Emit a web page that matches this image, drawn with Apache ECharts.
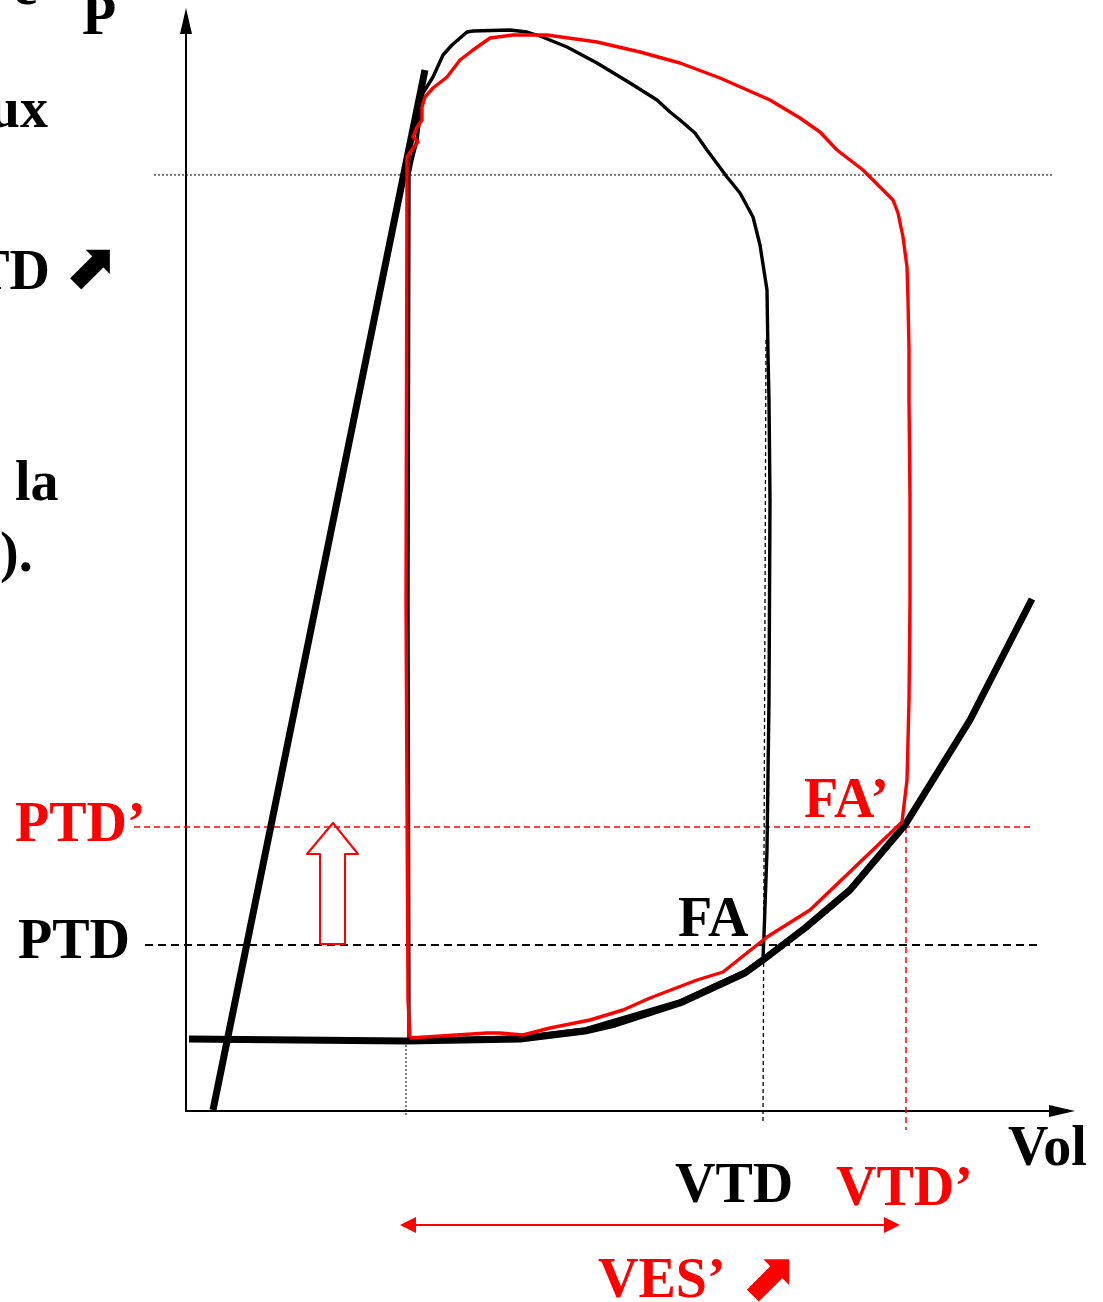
<!DOCTYPE html>
<html><head><meta charset="utf-8">
<script src="https://cdn.jsdelivr.net/npm/echarts@6/dist/echarts.min.js"></script>
<style>html,body{margin:0;padding:0;background:#fff}#c{width:1103px;height:1302px}</style>
</head><body><div id="c"></div>
<script>
// Units: volume (arbitrary) on x, pressure (arbitrary) on y
const espvr = [[6.75,0.2],[59.75,208.2]];
const edpvr = [[0.75,14.4],[55,14],[83.5,14.4],[99.75,16],[107.25,17.4],[123.5,21.6],[139.75,27.6],[144.25,30.2],[154.75,36.6],[166,44.2],[179.75,57.2],[196,78.2],[211.5,102.4]];
const loopBase = [[55.75,14.2],[83.5,14.8],[99.75,16.4],[123.5,22],[139.75,28],[144.25,30.6],[144.5,35.2],[145.25,52.2],[145.75,82.2],[146,122.2],[145.75,142.2],[145.5,151.2],[145.25,164.2],[143.5,173.2],[141.75,178.8],[138.5,183.6],[135.25,186.8],[130.25,192.2],[127.25,195.6],[123.5,198.2],[121,199.8],[117.75,202.2],[111,205.6],[102.75,209.6],[95.25,212.8],[88.5,215],[85.25,215.8],[81,216.2],[71.75,216],[70.25,215.8],[66.5,213.2],[64.25,211.2],[61.75,206.8],[59.25,203.6],[57.75,194.2],[56.5,190.2],[55.75,187.2],[55.5,102.2],[55.75,14.2]];
const loopPreload = [[56,14.6],[75.25,15.6],[78.5,15.6],[84.25,15.2],[91,16.6],[101,18.2],[109.25,20.2],[116,22.6],[127.75,26.2],[134.25,27.8],[145.25,34.8],[156,40.2],[179,57.8],[180.25,66.2],[180.75,82.2],[181,102.2],[181,122.2],[180.75,142.2],[180.75,152.2],[180.5,162.2],[180.25,168.8],[179.25,174.8],[178,179.6],[176.75,182.2],[173.5,184.8],[169.25,188.2],[162.75,192.2],[158.5,195.8],[153.5,198.6],[146,202.2],[133.5,206.6],[123.5,209.6],[113.5,211.8],[102.75,213.8],[90.25,215.2],[81.75,215.2],[76,214.6],[71.75,212.2],[68.5,210.2],[65.25,206.8],[61.75,204.6],[59.75,202.8],[59,200.8],[59,198.2],[57.75,196.8],[56.75,194.8],[58,193.8],[56.75,192.6],[55.25,190.8],[55.25,187.2],[55,102.2],[55.5,22.2],[56,14.6]];
// reference segments: [inside point, far end]
const topLevel = [[216.5,187.2],[-8.5,187.2]];
const ptdLine = [[212.75,33.2],[-10.25,33.2]];
const ptd2Line = [[211,56.8],[-14,56.8]];
const vesLine = [[55,14],[55,-1.2]];
const vtdLine = [[145,154.2],[144.25,-2.2]];
const vtd2Line = [[180,56.8],[180,-3.8]];
const upArrow = [[33.5,33.4],[33.5,51.4],[30.25,51.4],[36.75,57.6],[43,51.4],[39.75,51.4],[39.75,33.4],[33.5,33.4]];
const vesSpan = [[53.5,-22.8,178.5]];

const RED = '#ff0000';
const FONT = '"Liberation Serif","Times New Roman",serif';
function ln(data, color, width, z){
  return {type:'line', data, clip:false, showSymbol:false, symbol:'none', smooth:false, z:z||2,
    lineStyle:{color, width, join:'round', cap:'butt'}, silent:true, animation:false};
}
function seg(pts, color, width, dash){
  return {type:'custom', clip:false, silent:true, z:1, data:[[pts[0][0],pts[0][1],pts[1][0],pts[1][1]]],
    renderItem:function(params, api){
      const a = api.coord([api.value(0), api.value(1)]);
      const b = api.coord([api.value(2), api.value(3)]);
      return {type:'line', shape:{x1:a[0],y1:a[1],x2:b[0],y2:b[1]}, style:{stroke:color, lineWidth:width, lineDash:dash}};
    }};
}
function txt(text, x, y, color, align, size, fam){
  return {type:'text', x, y, silent:true, style:{text, fill:color, font:'bold '+(size||56)+'px '+(fam||FONT),
    textAlign:align||'left', textVerticalAlign:'middle', align:align||'left', verticalAlign:'middle'}};
}
const chart = echarts.init(document.getElementById('c'), null, {renderer:'canvas'});
chart.setOption({
  animation:false,
  backgroundColor:'#fff',
  grid:{left:186, top:21, right:41, bottom:191, containLabel:false},
  xAxis:{type:'value', min:0, max:219, axisLine:{show:true, onZero:false, lineStyle:{color:'#000', width:2}, symbol:['none','triangle'], symbolSize:[12,26]}, axisTick:{show:false}, axisLabel:{show:false}, splitLine:{show:false}},
  yAxis:{type:'value', min:0, max:218, axisLine:{show:true, onZero:false, lineStyle:{color:'#000', width:2}, symbol:['none','triangle'], symbolSize:[12,26]}, axisTick:{show:false}, axisLabel:{show:false}, splitLine:{show:false}},
  series:[
    seg(topLevel,'#000',1,[2,2]),
    seg(ptdLine,'#000',2,[8,5]),
    seg(ptd2Line,RED,1.5,[6,4]),
    seg(vesLine,'#000',1,[2,2]),
    seg(vtdLine,'#000',1.3,[4,3]),
    seg(vtd2Line,RED,1.5,[6,4]),
    ln(upArrow,RED,2),
    ln(espvr,'#000',7),
    ln(edpvr,'#000',7),
    ln(loopBase,'#000',3.4),
    ln(loopPreload,RED,3.4),
    {type:'custom', data:vesSpan, clip:false, silent:true, z:3,
     renderItem:function(params, api){
       const a = api.coord([api.value(0), api.value(1)]);
       const b = api.coord([api.value(2), api.value(1)]);
       const L = 16, H = 8;
       return {type:'group', children:[
         {type:'line', shape:{x1:a[0]+L-2, y1:a[1], x2:b[0]-L+2, y2:b[1]}, style:{stroke:RED, lineWidth:2}},
         {type:'polygon', shape:{points:[[a[0],a[1]],[a[0]+L,a[1]-H],[a[0]+L,a[1]+H]]}, style:{fill:RED}},
         {type:'polygon', shape:{points:[[b[0],b[1]],[b[0]-L,b[1]-H],[b[0]-L,b[1]+H]]}, style:{fill:RED}}
       ]};
     }}
  ],
  graphic:[
    txt('e',13,-10,'#000'),
    txt('P',82,20,'#000'),
    txt('ux',48,113,'#000','right'),
    txt('TD',50,275,'#000','right'),
    txt('⬈',89,271,'#000','center',64,'"DejaVu Sans"'),
    txt('la',15,486,'#000'),
    txt(').',0,557,'#000'),
    txt('PTD’',15,827,RED),
    txt('PTD',18,944,'#000'),
    txt('FA',678,922,'#000'),
    txt('FA’',804,803,RED),
    txt('VTD',675,1188,'#000'),
    txt('VTD’',836,1191,RED),
    txt('Vol',1008,1151,'#000'),
    txt('VES’',598,1283,RED),
    txt('⬈',767,1282,RED,'center',68,'"DejaVu Sans"')
  ]
});
</script></body></html>
